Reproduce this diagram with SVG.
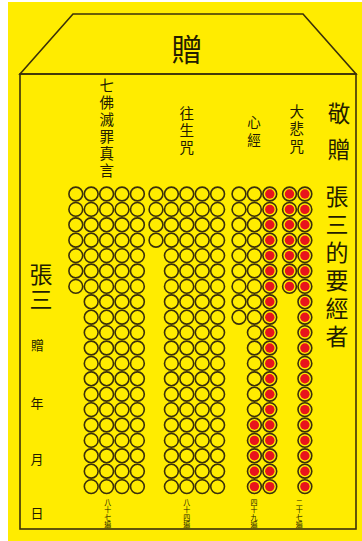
<svg xmlns="http://www.w3.org/2000/svg" xmlns:xlink="http://www.w3.org/1999/xlink" width="362" height="541" viewBox="0 0 362 541">
<style>
.ln{fill:none;stroke:#3b300a;stroke-width:1.6}
.t{font-family:"Noto Sans CJK TC","Noto Sans CJK SC",sans-serif;fill:#231c00;text-anchor:middle;dominant-baseline:central}
.v{font-family:"Noto Sans CJK TC","Noto Sans CJK SC",sans-serif;fill:#231c00;writing-mode:vertical-rl;text-orientation:upright;text-anchor:start}
.ring{fill:none;stroke:#3b300a;stroke-width:1.6}
.dot{fill:#e8141c}
</style>
<defs>
<circle id="o" class="ring" r="6.9"/>
<g id="r"><circle class="ring" r="6.9"/><circle class="dot" r="4.7"/></g>
<g id="y4"><use href="#o" y="0"/><use href="#o" y="15.4"/><use href="#o" y="30.8"/><use href="#o" y="46.2"/></g>
<g id="y5"><use href="#y4"/><use href="#o" y="61.6"/></g>
<g id="y7"><use href="#y5"/><use href="#o" y="77"/><use href="#o" y="92.4"/></g>
<g id="y9"><use href="#y7"/><use href="#o" y="107.8"/><use href="#o" y="123.2"/></g>
<g id="y10"><use href="#y5"/><use href="#y5" y="77"/></g>
<g id="y15"><use href="#y10"/><use href="#y5" y="154"/></g>
<g id="y20"><use href="#y10"/><use href="#y10" y="154"/></g>
<g id="r5"><use href="#r" y="0"/><use href="#r" y="15.4"/><use href="#r" y="30.8"/><use href="#r" y="46.2"/><use href="#r" y="61.6"/></g>
<g id="r7"><use href="#r5"/><use href="#r" y="77"/><use href="#r" y="92.4"/></g>
<g id="r10"><use href="#r5"/><use href="#r5" y="77"/></g>
<g id="r20"><use href="#r10"/><use href="#r10" y="154"/></g>
</defs>
<rect x="8" y="2" width="354" height="539" fill="#ffec00"/>
<g id="envelope">
<polygon class="ln" points="20,74 73,14 303,14 356,74"/>
<rect class="ln" x="20" y="74" width="336" height="455"/>
</g>
<g id="title"><text class="t" x="187" y="47" font-size="31">贈</text></g>
<g id="label-qifo"><text class="v" x="106.7" y="77.75" font-size="14.5" letter-spacing="2.5">七佛滅罪真言</text></g>
<g id="label-wangsheng"><text class="v" x="186.7" y="105.75" font-size="14.5" letter-spacing="2.5">往生咒</text></g>
<g id="label-xinjing"><text class="v" x="254" y="115.25" font-size="13.5" letter-spacing="4.5">心經</text></g>
<g id="label-dabei"><text class="v" x="296.7" y="103.75" font-size="14.5" letter-spacing="3">大悲咒</text></g>
<g id="dedication">
<text class="v" x="339" y="101.5" font-size="23" letter-spacing="13">敬贈</text>
<text class="v" x="337" y="184.5" font-size="23" letter-spacing="5">張三的要經者</text>
</g>
<g id="giver">
<text class="v" x="41" y="262.5" font-size="23" letter-spacing="2">張三</text>
<text class="t" x="37.5" y="344" font-size="13">贈</text>
<text class="t" x="37" y="402" font-size="13">年</text>
<text class="t" x="37" y="458" font-size="13">月</text>
<text class="t" x="37" y="512" font-size="13">日</text>
</g>
<g id="beads-qifo">
<use href="#y7" x="75.8" y="194"/>
<use href="#y20" x="91.2" y="194"/>
<use href="#y20" x="106.6" y="194"/>
<use href="#y20" x="122" y="194"/>
<use href="#y20" x="137.4" y="194"/>
</g>
<g id="beads-wangsheng">
<use href="#y4" x="156" y="194"/>
<use href="#y20" x="171.4" y="194"/>
<use href="#y20" x="186.8" y="194"/>
<use href="#y20" x="202.2" y="194"/>
<use href="#y20" x="217.6" y="194"/>
</g>
<g id="beads-xinjing">
<use href="#y9" x="239" y="194"/>
<use href="#y15" x="254.4" y="194"/>
<use href="#r5" x="254.4" y="425"/>
<use href="#r20" x="269.8" y="194"/>
</g>
<g id="beads-dabei">
<use href="#r7" x="289.5" y="194"/>
<use href="#r20" x="304.9" y="194"/>
</g>
<g id="counts">
<text class="v" x="107.7" y="498.5" font-size="7" letter-spacing="0.5">八十七遍</text>
<text class="v" x="186.7" y="498.5" font-size="7" letter-spacing="0.5">八十四遍</text>
<text class="v" x="254" y="498.5" font-size="7" letter-spacing="0.5">四十九遍</text>
<text class="v" x="299.3" y="498.5" font-size="7" letter-spacing="0.5">二十七遍</text>
</g>
</svg>
